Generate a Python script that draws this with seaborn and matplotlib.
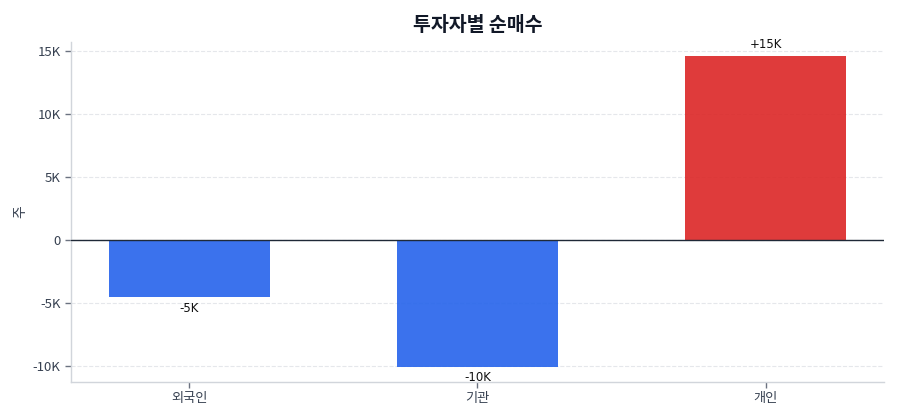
import matplotlib
matplotlib.use('Agg')
import matplotlib.pyplot as plt
import seaborn as sns
import pandas as pd
from matplotlib.ticker import FuncFormatter

# data
investors = ['외국인', '기관', '개인']
net_buy = [-4550, -10050, 14550]
bar_colors = ['#2563eb', '#2563eb', '#dc2626']

sns.set_theme(style='white')
plt.rcParams['font.family'] = ['Noto Sans CJK KR', 'DejaVu Sans']

df = pd.DataFrame({'investor': investors, 'value': net_buy})

fig = plt.figure(figsize=(9, 4.2), dpi=100)
ax = fig.add_axes([0.079, 0.0905, 0.903, 0.81])

sns.barplot(data=df, x='investor', y='value', hue='investor',
            palette=dict(zip(investors, bar_colors)), legend=False,
            width=0.56, alpha=0.9, saturation=1, linewidth=0, ax=ax)

ax.axhline(0, color='#1f2937', linewidth=1.0, zorder=3)

# value labels
for i, v in enumerate(net_buy):
    txt = f"{v / 1000:+.0f}K" if v > 0 else f"{v / 1000:.0f}K"
    off = 4 if v > 0 else -3
    ax.annotate(txt, (i, v), xytext=(0, off), textcoords='offset points',
                ha='center', va='bottom' if v > 0 else 'top',
                fontsize=8.5, color='#111111', family='DejaVu Sans')

ax.set_ylim(min(net_buy) * 1.12, max(net_buy) * 1.08)
ax.set_xlim(-0.41, 2.41)
ax.set_yticks([-10000, -5000, 0, 5000, 10000, 15000])
ax.yaxis.set_major_formatter(FuncFormatter(
    lambda x, p: '0' if x == 0 else f"{x / 1000:.0f}K"))

ax.grid(axis='y', linestyle='--', color='#e5e7eb', linewidth=0.8)
ax.set_axisbelow(True)

ax.set_title('투자자별 순매수', fontsize=14, fontweight='bold',
             color='#111827', pad=8)
ax.set_xlabel('')
ax.set_ylabel('주', fontsize=10, color='#374151')

for s in ['top', 'right']:
    ax.spines[s].set_visible(False)
for s in ['left', 'bottom']:
    ax.spines[s].set_color('#d1d5db')
    ax.spines[s].set_linewidth(1.0)

ax.tick_params(axis='both', colors='#6b7280', labelcolor='#374151',
               labelsize=9.5, length=4, width=1, left=True, bottom=True)

fig.savefig('out.png', dpi=100)
